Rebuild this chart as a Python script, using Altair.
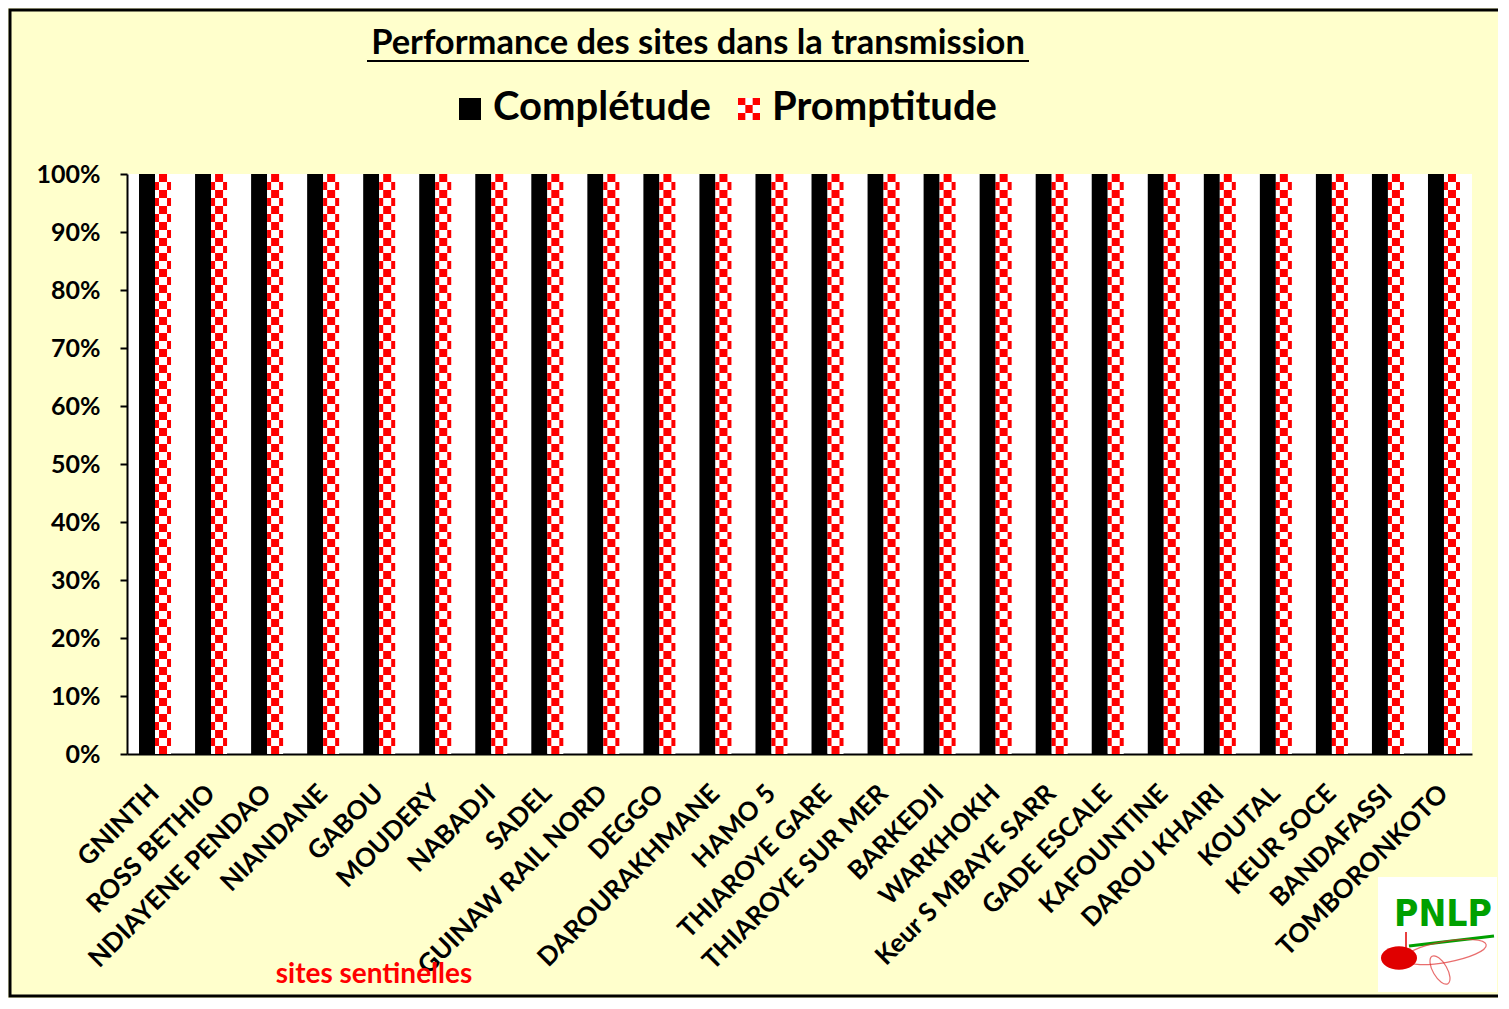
import altair as alt
import pandas as pd

# ---------------- data ----------------
sites = [
    "GNINTH", "ROSS BETHIO", "NDIAYENE PENDAO", "NIANDANE", "GABOU", "MOUDERY",
    "NABADJI", "SADEL", "GUINAW RAIL NORD", "DEGGO", "DAROURAKHMANE", "HAMO 5",
    "THIAROYE GARE", "THIAROYE SUR MER", "BARKEDJI", "WARKHOKH", "Keur S MBAYE  SARR",
    "GADE ESCALE", "KAFOUNTINE", "DAROU KHAIRI", "KOUTAL", "KEUR SOCE",
    "BANDAFASSI", "TOMBORONKOTO",
]
completude = [100, 100, 100, 100, 100, 100, 100, 100, 100, 100, 100, 100,
              100, 100, 100, 100, 100, 100, 100, 100, 100, 100, 100, 100]
promptitude = [100, 100, 100, 100, 100, 100, 100, 100, 100, 100, 100, 100,
               100, 100, 100, 100, 100, 100, 100, 100, 100, 100, 100, 100]
series = ["Complétude", "Promptitude"]
y_ticks = [0, 10, 20, 30, 40, 50, 60, 70, 80, 90, 100]
title_text = "Performance des sites dans la transmission"
axis_title_text = "sites  sentinelles"
logo_text = "PNLP"

df = pd.DataFrame({"site": sites, series[0]: completude, series[1]: promptitude})
one = pd.DataFrame({"k": [0]})

# ---------------- styles ----------------
W, H = 1345, 580
FONT = "Lato"
BG = "#FFFFCC"
RED = "#FF0000"
N_ROWS = 73


def stripes(n, first_red):
    stops = []
    for i in range(n):
        c = RED if ((i % 2 == 0) == first_red) else "#FFFFFF"
        stops.append(alt.GradientStop(offset=i / n, color=c))
        stops.append(alt.GradientStop(offset=(i + 1) / n, color=c))
    return alt.LinearGradient(gradient="linear", stops=stops, x1=0, x2=0, y1=0, y2=1)


x_enc = alt.X(
    "site:N", sort=sites,
    scale=alt.Scale(paddingInner=0, paddingOuter=0),
    axis=alt.Axis(
        title=None, labelAngle=-45, labelAlign="right", labelBaseline="middle",
        labelPadding=35, ticks=False, domainColor="black", domainWidth=2,
        labelFont=FONT, labelFontSize=26, labelFontWeight="bold",
        labelColor="black", labelLimit=400, labelOverlap=False,
    ),
)
y_axis = alt.Axis(
    values=y_ticks, labelExpr="datum.value + '%'", title=None, grid=False,
    tickSize=7, tickWidth=2, tickColor="black", domainColor="black", domainWidth=2,
    labelPadding=20, labelFont=FONT, labelFontSize=25, labelFontWeight="bold",
    labelColor="black",
)
y_scale = alt.Scale(domain=[0, 100], nice=False)

base = alt.Chart(df)
bar_c = base.mark_bar(width=16, xOffset=-8, color="black").encode(
    x=x_enc, y=alt.Y(f"{series[0]}:Q", scale=y_scale, axis=y_axis))
bar_p = base.mark_bar(width=16, xOffset=8, fill=stripes(N_ROWS, False)).encode(
    x=x_enc, y=alt.Y(f"{series[1]}:Q", scale=y_scale, axis=y_axis))
bar_pm = base.mark_bar(width=8, xOffset=8, fill=stripes(N_ROWS, True)).encode(
    x=x_enc, y=alt.Y(f"{series[1]}:Q", scale=y_scale, axis=y_axis))

deco = alt.Chart(one)

# outer frame (right edge runs off the picture, as in the original)
frame = deco.mark_rect(filled=False, stroke="black", strokeWidth=3).encode(
    x=alt.value(-117), x2=alt.value(W + 60), y=alt.value(-164), y2=alt.value(H + 242))

# title with underline
title = deco.mark_text(text=title_text, font=FONT, fontSize=34.5, fontWeight="bold",
                       color="black", align="center", baseline="alphabetic").encode(
    x=alt.value(571), y=alt.value(-120))
underline = deco.mark_rule(color="black", strokeWidth=2).encode(
    x=alt.value(240), x2=alt.value(902), y=alt.value(-113))

# legend
leg_sq1 = deco.mark_rect(color="black").encode(
    x=alt.value(332), x2=alt.value(354), y=alt.value(-76), y2=alt.value(-54))
leg_t1 = deco.mark_text(text=series[0], font=FONT, fontSize=40, fontWeight="bold",
                        color="black", align="left", baseline="alphabetic").encode(
    x=alt.value(366), y=alt.value(-54))
leg_sq2 = deco.mark_rect(fill=stripes(3, True)).encode(
    x=alt.value(611), x2=alt.value(633), y=alt.value(-76), y2=alt.value(-54))
leg_sq2m = deco.mark_rect(fill=stripes(3, False)).encode(
    x=alt.value(618.33), x2=alt.value(625.67), y=alt.value(-76), y2=alt.value(-54))
leg_t2 = deco.mark_text(text=series[1], font=FONT, fontSize=40, fontWeight="bold",
                        color="black", align="left", baseline="alphabetic").encode(
    x=alt.value(645), y=alt.value(-54))

# x axis title
xtitle = deco.mark_text(text=axis_title_text, font=FONT, fontSize=28, fontWeight="bold",
                        color=RED, align="center", baseline="middle").encode(
    x=alt.value(247), y=alt.value(801))

# logo
logo_bg = deco.mark_rect(color="white").encode(
    x=alt.value(1251), x2=alt.value(1370), y=alt.value(703), y2=alt.value(818))
logo_txt = deco.mark_text(text=logo_text,
                          font="DejaVu Sans Condensed, Roboto Condensed, Roboto",
                          fontSize=37, fontWeight="bold", color="#00A000", align="center",
                          baseline="alphabetic").encode(
    x=alt.value(1316), y=alt.value(752))
logo_line = deco.mark_rule(color="#00A000", strokeWidth=3).encode(
    x=alt.value(1282), x2=alt.value(1367), y=alt.value(772), y2=alt.value(762))
logo_loop = deco.mark_point(shape="M-1,0A1,0.25,0,1,1,1,0A1,0.25,0,1,1,-1,0Z",
                            filled=False, color="#E03030", strokeWidth=1.2,
                            size=7000, angle=350).encode(
    x=alt.value(1318), y=alt.value(778))
logo_loop2 = deco.mark_point(shape="M-1,0A1,0.45,0,1,1,1,0A1,0.45,0,1,1,-1,0Z",
                             filled=False, color="#E03030", strokeWidth=1.2,
                             size=1000, angle=60).encode(
    x=alt.value(1313), y=alt.value(796))
logo_dot = deco.mark_point(shape="M-1,0A1,0.65,0,1,1,1,0A1,0.65,0,1,1,-1,0Z",
                           filled=True, color="#E00000", opacity=1,
                           size=1300).encode(
    x=alt.value(1272), y=alt.value(784))
logo_stem = deco.mark_rule(color="#E00000", strokeWidth=1.5).encode(
    x=alt.value(1279), y=alt.value(758), y2=alt.value(778))

chart = alt.layer(
    bar_c, bar_p, bar_pm, frame, title, underline,
    leg_sq1, leg_t1, leg_sq2, leg_sq2m, leg_t2, xtitle,
    logo_bg, logo_line, logo_loop, logo_loop2, logo_stem, logo_dot, logo_txt,
).properties(
    width=W, height=H,
    autosize=alt.AutoSizeParams(type="none"),
    padding={"left": 119, "top": 166, "right": 26, "bottom": 244},
    background=BG,
).configure_view(fill="white", stroke=None)

chart.save("out.html", embed_options={"renderer": "svg", "actions": False})
